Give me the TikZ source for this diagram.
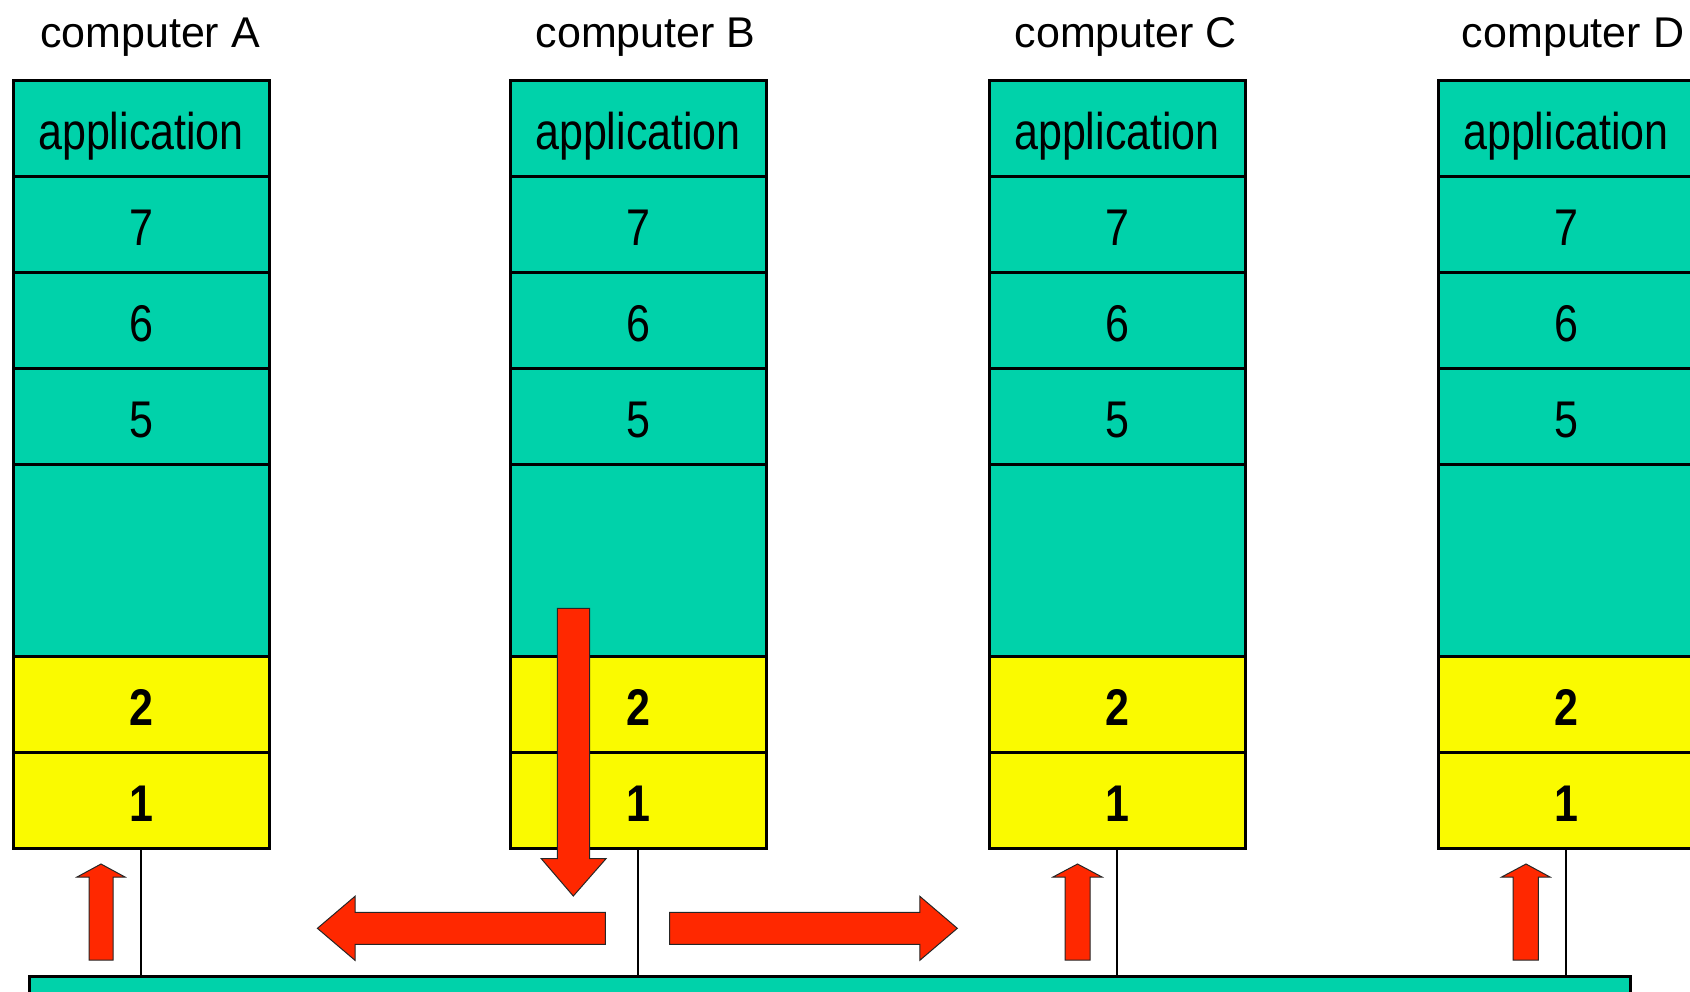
\documentclass[tikz,border=0pt]{standalone}
\usepackage{fontspec}
\usepackage{graphicx}
\setmainfont{Liberation Sans}
\definecolor{layerteal}{RGB}{0,210,170}
\definecolor{layeryellow}{RGB}{250,250,0}
\definecolor{arrowred}{RGB}{255,40,0}
% cell text is set a little taller than wide
\newcommand\cellstr[1]{\scalebox{1}[1.2]{#1}}
% one protocol stack: name, left edge
\newcommand\osistack[2]{%
  \node[upper] (#1-app) at (#2,80)  {\cellstr{application}};
  \node[upper] (#1-7)   at (#2,176) {\cellstr{7}};
  \node[upper] (#1-6)   at (#2,272) {\cellstr{6}};
  \node[upper] (#1-5)   at (#2,368) {\cellstr{5}};
  \node[upper, minimum height=96pt] (#1-mid) at (#2,464) {};
  \node[lower] (#1-2)   at (#2,656) {\cellstr{2}};
  \node[lower] (#1-1)   at (#2,752) {\cellstr{1}};
}
\begin{document}
\begin{tikzpicture}[x=0.5pt,y=-0.5pt,
  cell/.style={draw=black, line width=1.5pt, minimum width=128pt,
    minimum height=48pt, inner sep=0pt, outer sep=0pt, anchor=north west,
    text height=21pt, text depth=0pt, font=\fontsize{21.5}{24}\selectfont},
  upper/.style={cell, fill=layerteal},
  lower/.style={cell, fill=layeryellow, font=\fontsize{21.5}{24}\selectfont\bfseries},
  hostname/.style={anchor=base, inner sep=0pt, font=\fontsize{21.5}{24}\selectfont},
  wire/.style={draw=black, line width=1pt},
  blockarrow/.style={fill=arrowred, draw=black!85, line width=0.5pt, line join=miter}
]
\useasboundingbox (0,0) rectangle (1690,991);
\clip (0,0) rectangle (1690,991);

% host names
\node[hostname] (nameA) at (150,47)    {computer A};
\node[hostname] (nameB) at (645.6,47)  {computer B};
\node[hostname] (nameC) at (1125.8,47) {computer C};
\node[hostname] (nameD) at (1573,47)   {computer D};

% stacks
\osistack{A}{13}
\osistack{B}{510}
\osistack{C}{989}
\osistack{D}{1438}

% shared medium
\node[draw=black, line width=1.5pt, fill=layerteal, anchor=north west,
  minimum width=800.5pt, minimum height=30pt, inner sep=0pt, outer sep=0pt]
  (bus) at (29.5,976) {};

% attachments to the medium
\foreach \s in {A,B,C,D}
  \draw[wire] (\s-1.south) -- (\s-1.south |- bus.north);

% data flow
\draw[blockarrow] (557.3,608.3) -- (589.7,608.3) -- (589.7,858.7) -- (606,858.7)
  -- (573.3,896) -- (541.3,858.7) -- (557.3,858.7) -- cycle;
\draw[blockarrow] (605.4,912.3) -- (355,912.3) -- (355,896.3) -- (317.4,928.3)
  -- (355,960.3) -- (355,944.3) -- (605.4,944.3) -- cycle;
\draw[blockarrow] (669.5,912.3) -- (919.8,912.3) -- (919.8,896.3) -- (957.3,928.3)
  -- (919.8,960.3) -- (919.8,944.3) -- (669.5,944.3) -- cycle;
\draw[blockarrow] (89,960) -- (89,877) -- (77,877) -- (101,864) -- (125,877)
  -- (113,877) -- (113,960) -- cycle;
\draw[blockarrow] (1065,960) -- (1065,877) -- (1053,877) -- (1077.5,864) -- (1102,877)
  -- (1090,877) -- (1090,960) -- cycle;
\draw[blockarrow] (1513,960) -- (1513,877) -- (1501.6,877) -- (1526,864) -- (1550,877)
  -- (1538.4,877) -- (1538.4,960) -- cycle;
\end{tikzpicture}
\end{document}
